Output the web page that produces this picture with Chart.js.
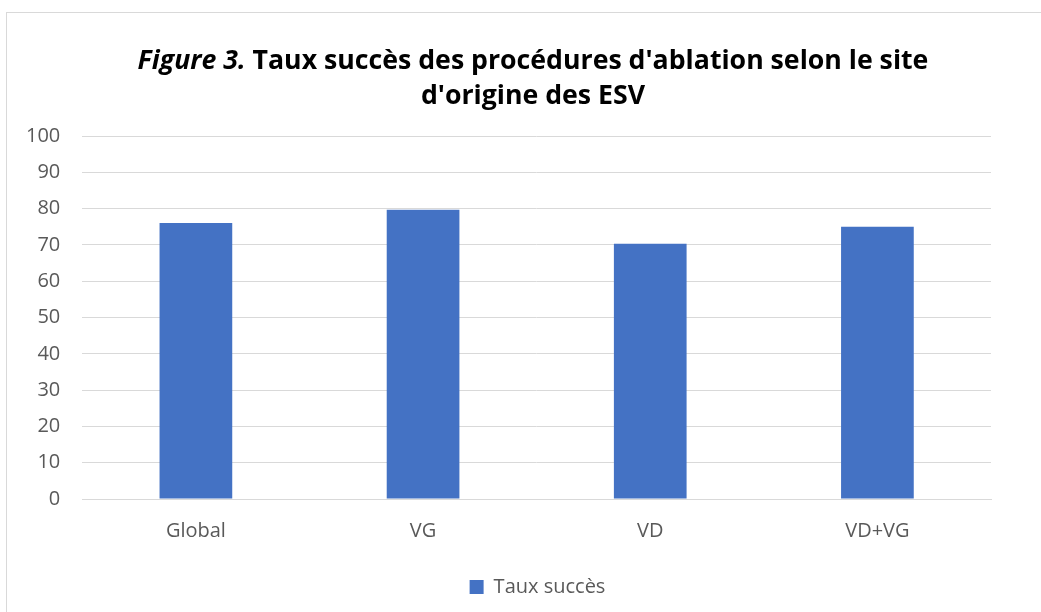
<!DOCTYPE html>
<html>
<head>
<meta charset="utf-8">
<script src="https://cdn.jsdelivr.net/npm/chart.js@4.4.0/dist/chart.umd.min.js"></script>
<style>
  html, body { margin: 0; padding: 0; background: #fff; }
  #wrap { position: relative; width: 1041px; height: 612px; }
</style>
</head>
<body>
<div id="wrap"><canvas id="chart" width="1041" height="612"></canvas></div>
<script>
// data
var categories = ['Global', 'VG', 'VD', 'VD+VG'];
var tauxSucces = [76, 79.7, 70.3, 75];
var seriesName = 'Taux succès';
var titleItalic = 'Figure 3.';
var titleLine1 = ' Taux succès des procédures d\'ablation selon le site';
var titleLine2 = 'd\'origine des ESV';

var FONT = '"Open Sans", "Liberation Sans", sans-serif';
var grey = '#595959';

// frame + two-line title with an italic lead-in
var titlePlugin = {
  id: 'figTitle',
  afterLayout: function(chart) {
    // legend sits a little right of the plot's centre in the original
    var lg = chart.legend;
    lg.left += 40; lg.right += 40;
    lg.top -= 3; lg.bottom -= 3;
  },
  beforeDraw: function(chart) {
    var ctx = chart.ctx;
    ctx.save();
    ctx.fillStyle = '#fff';
    ctx.fillRect(0, 0, chart.width, chart.height);
    ctx.strokeStyle = '#d9d9d9';
    ctx.lineWidth = 1;
    ctx.strokeRect(6.5, 12.5, chart.width + 20, chart.height + 20);
    ctx.restore();
  },
  afterDraw: function(chart) {
    var ctx = chart.ctx;
    ctx.save();
    ctx.fillStyle = '#000';
    ctx.textBaseline = 'alphabetic';
    var fi = 'italic bold 26.7px ' + FONT;
    var fb = 'bold 26.7px ' + FONT;
    ctx.font = fi;
    var w1 = ctx.measureText(titleItalic).width;
    ctx.font = fb;
    var w2 = ctx.measureText(titleLine1).width;
    var x0 = 533 - (w1 + w2) / 2;
    ctx.font = fi;
    ctx.fillText(titleItalic, x0, 69);
    ctx.font = fb;
    ctx.fillText(titleLine1, x0 + w1, 69);
    ctx.textAlign = 'center';
    ctx.fillText(titleLine2, 533, 104);
    ctx.restore();
  }
};

new Chart(document.getElementById('chart'), {
  type: 'bar',
  data: {
    labels: categories,
    datasets: [{
      label: seriesName,
      data: tauxSucces,
      backgroundColor: '#4472c4',
      borderWidth: 0,
      categoryPercentage: 1,
      barPercentage: 0.32
    }]
  },
  options: {
    responsive: false,
    animation: false,
    devicePixelRatio: 1,
    layout: { padding: { top: 136, left: 4, right: 50, bottom: 2 } },
    plugins: {
      legend: {
        position: 'bottom',
        labels: {
          boxWidth: 14, boxHeight: 14, padding: 17,
          color: grey,
          font: { family: FONT, size: 20 }
        }
      },
      title: { display: false },
      tooltip: { enabled: false }
    },
    scales: {
      x: {
        grid: { display: false, drawTicks: false },
        border: { color: '#d9d9d9' },
        ticks: { color: grey, font: { family: FONT, size: 20 }, padding: 20 }
      },
      y: {
        min: 0, max: 100,
        ticks: { stepSize: 10, color: grey, font: { family: FONT, size: 20 }, padding: 22 },
        grid: { color: '#d9d9d9', drawTicks: false },
        border: { display: false }
      }
    }
  },
  plugins: [titlePlugin]
});
</script>
</body>
</html>
